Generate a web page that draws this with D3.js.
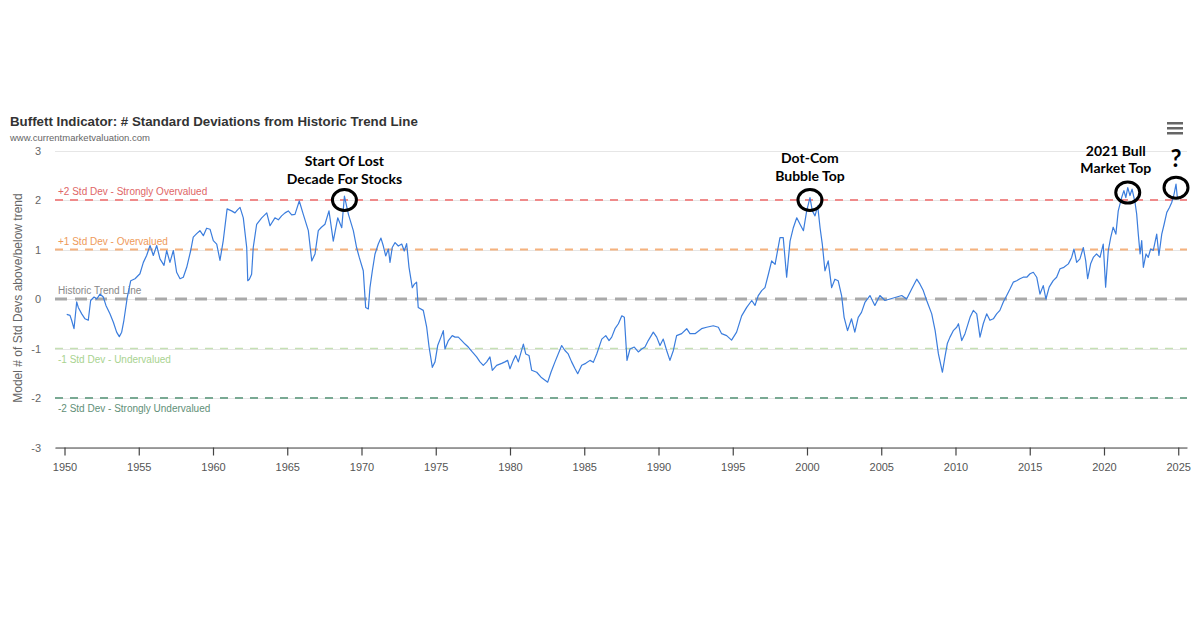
<!DOCTYPE html>
<html>
<head>
<meta charset="utf-8">
<script src="https://cdn.jsdelivr.net/npm/d3@7"></script>
<style>
  html, body { margin: 0; padding: 0; background: #fff; }
  svg { display: block; }
</style>
</head>
<body>
<svg id="chart" width="1200" height="630"></svg>
<script>
// ---- Data ----
const years = [
1950.15,1950.37,1950.48,1950.64,1950.82,1950.93,1951.16,1951.38,1951.60,1951.76,1951.99,1952.17,1952.39,1952.61,1952.79,
1953.06,1953.29,1953.51,1953.69,1953.85,1954.00,1954.23,1954.46,1954.75,1955.08,1955.31,1955.53,1955.76,1955.98,1956.21,
1956.43,1956.70,1956.88,1957.10,1957.33,1957.55,1957.78,1958.00,1958.23,1958.50,1958.67,1958.90,1959.12,1959.35,1959.57,
1959.80,1960.02,1960.25,1960.47,1960.69,1960.95,1961.25,1961.48,1961.65,1961.82,1962.04,1962.27,1962.34,1962.45,1962.60,
1962.71,1962.94,1963.28,1963.62,1963.84,1964.17,1964.40,1964.62,1964.85,1965.07,1965.30,1965.52,1965.81,1966.08,1966.42,
1966.65,1966.87,1967.09,1967.30,1967.54,1967.81,1968.10,1968.40,1968.67,1968.85,1969.12,1969.45,1969.67,1969.85,1970.12,
1970.28,1970.46,1970.57,1970.73,1970.91,1971.13,1971.31,1971.47,1971.63,1971.81,1971.92,1972.07,1972.26,1972.48,1972.71,
1972.88,1973.04,1973.20,1973.42,1973.56,1973.71,1973.82,1974.16,1974.39,1974.55,1974.77,1974.95,1975.13,1975.35,1975.51,
1975.62,1975.85,1976.11,1976.30,1976.52,1976.75,1976.97,1977.19,1977.46,1977.75,1977.98,1978.20,1978.43,1978.65,1978.81,
1979.10,1979.44,1979.66,1979.84,1980.00,1980.22,1980.38,1980.56,1980.90,1981.06,1981.28,1981.46,1981.80,1982.09,1982.54,
1982.76,1983.03,1983.48,1983.70,1983.92,1984.15,1984.38,1984.56,1984.83,1985.10,1985.39,1985.61,1985.84,1986.18,1986.45,
1986.67,1986.85,1987.07,1987.30,1987.53,1987.70,1987.88,1988.08,1988.37,1988.64,1988.87,1989.09,1989.31,1989.65,1989.88,
1990.10,1990.32,1990.55,1990.77,1991.00,1991.22,1991.56,1991.90,1992.12,1992.46,1992.90,1993.24,1993.69,1994.03,1994.25,
1994.59,1994.92,1995.26,1995.60,1995.94,1996.28,1996.50,1996.72,1996.95,1997.17,1997.40,1997.62,1997.85,1998.18,1998.40,
1998.63,1998.86,1999.08,1999.31,1999.53,1999.76,1999.98,2000.20,2000.36,2000.54,2000.72,2000.88,2001.03,2001.21,2001.43,
2001.66,2001.88,2002.10,2002.33,2002.50,2002.73,2003.00,2003.22,2003.45,2003.67,2003.90,2004.24,2004.57,2004.91,2005.25,
2005.59,2005.93,2006.38,2006.71,2007.05,2007.39,2007.61,2007.83,2008.06,2008.40,2008.63,2008.85,2009.12,2009.29,2009.45,
2009.63,2009.85,2010.08,2010.20,2010.42,2010.64,2010.98,2011.20,2011.43,2011.65,2011.87,2012.10,2012.32,2012.55,2012.77,
2012.99,2013.22,2013.45,2013.67,2013.89,2014.12,2014.34,2014.56,2014.80,2015.02,2015.24,2015.47,2015.69,2015.91,2016.09,
2016.31,2016.58,2016.81,2017.04,2017.30,2017.60,2017.82,2017.98,2018.16,2018.38,2018.61,2018.77,2018.90,2019.10,2019.28,
2019.50,2019.73,2019.95,2020.11,2020.29,2020.45,2020.62,2020.80,2020.96,2021.19,2021.34,2021.47,2021.60,2021.75,2021.89,
2022.09,2022.20,2022.31,2022.43,2022.54,2022.65,2022.83,2022.98,2023.14,2023.32,2023.55,2023.70,2023.89,2024.05,2024.23,
2024.41,2024.56,2024.72,2024.85,2024.94
];
const stdDevs = [
-0.31,-0.33,-0.43,-0.60,-0.06,-0.17,-0.30,-0.40,-0.43,-0.03,0.04,0.00,0.10,0.04,-0.13,
-0.30,-0.47,-0.67,-0.76,-0.67,-0.43,0.04,0.37,0.41,0.51,0.74,0.88,1.08,0.88,1.08,
0.81,0.68,0.98,0.74,0.98,0.54,0.41,0.44,0.64,0.98,1.25,1.32,1.38,1.28,1.43,
1.41,1.18,1.11,0.78,1.18,1.82,1.78,1.74,1.80,1.85,1.64,1.04,0.37,0.40,0.50,
1.04,1.51,1.64,1.74,1.48,1.64,1.60,1.68,1.74,1.78,1.70,1.71,1.98,1.71,1.38,
0.77,0.91,1.38,1.45,1.51,1.78,1.17,1.64,1.44,2.08,1.71,1.38,1.04,0.84,0.57,
-0.17,-0.20,0.23,0.57,0.91,1.11,1.23,1.07,0.87,1.01,0.74,1.04,1.14,1.07,1.11,
0.97,1.12,0.64,0.23,0.30,0.34,-0.17,-0.23,-0.57,-0.97,-1.38,-1.27,-0.94,-0.77,-0.64,
-1.01,-0.84,-0.74,-0.77,-0.77,-0.84,-0.91,-0.97,-1.07,-1.17,-1.27,-1.34,-1.27,-1.17,-1.44,
-1.34,-1.30,-1.27,-1.24,-1.41,-1.24,-1.14,-1.27,-0.91,-1.11,-1.14,-1.44,-1.48,-1.58,-1.68,
-1.48,-1.27,-0.94,-1.04,-1.11,-1.27,-1.41,-1.51,-1.34,-1.30,-1.24,-1.28,-1.11,-0.81,-0.74,
-0.84,-0.77,-0.60,-0.50,-0.34,-0.37,-1.24,-1.01,-0.97,-1.07,-1.01,-0.97,-0.84,-0.67,-0.77,
-0.94,-0.81,-1.04,-1.24,-1.04,-0.74,-0.70,-0.60,-0.70,-0.70,-0.60,-0.57,-0.54,-0.57,-0.70,
-0.74,-0.83,-0.67,-0.34,-0.17,-0.03,-0.13,0.07,0.17,0.23,0.50,0.77,0.70,1.24,1.24,
0.44,1.17,1.44,1.64,1.51,1.38,1.78,2.05,1.78,1.68,1.88,1.44,1.11,0.57,0.77,
0.23,0.40,0.37,0.07,-0.37,-0.64,-0.40,-0.67,-0.37,-0.27,-0.07,0.07,-0.13,0.07,-0.03,
0.00,0.03,0.07,0.00,0.20,0.40,0.30,0.17,-0.03,-0.30,-0.64,-1.11,-1.48,-1.17,-0.90,
-0.77,-0.64,-0.57,-0.50,-0.84,-0.70,-0.37,-0.23,-0.30,-0.77,-0.50,-0.30,-0.43,-0.40,-0.30,
-0.23,-0.06,0.07,0.20,0.34,0.37,0.41,0.44,0.44,0.51,0.54,0.44,0.10,0.27,0.00,
0.24,0.37,0.44,0.61,0.64,0.71,0.84,1.01,0.74,0.81,1.04,0.77,0.41,0.71,0.84,
0.91,0.84,1.11,0.24,0.98,1.24,1.45,1.31,1.78,2.05,2.19,2.05,2.25,2.09,2.22,
1.95,1.72,1.31,0.91,1.18,0.64,0.91,0.84,1.01,0.98,1.31,0.88,1.31,1.51,1.75,
1.85,1.95,2.12,2.32,2.05
];
const xTickYears = [1950,1955,1960,1965,1970,1975,1980,1985,1990,1995,2000,2005,2010,2015,2020,2025];
const yTickValues = [-3,-2,-1,0,1,2,3];
const bandLevels = [2, 1, 0, -1, -2];
const bandLabels = ["+2 Std Dev - Strongly Overvalued","+1 Std Dev - Overvalued","Historic Trend Line","-1 Std Dev - Undervalued","-2 Std Dev - Strongly Undervalued"];
const annotationText = [["Start Of Lost","Decade For Stocks"],["Dot-Com","Bubble Top"],["2021 Bull","Market Top"],["?"]];
const annotationYears = [1968.85, 2000.2, 2021.6, 2024.85];
const annotationValues = [2.0, 2.0, 2.15, 2.25];

// ---- Styles ----
const bandStyle = [
  {color:"#ef8a8a", width:2, dash:"8,7", text:"#e06666", labelDy:-5},
  {color:"#f5b27e", width:2, dash:"8,7", text:"#ee9a5a", labelDy:-5},
  {color:"#a9a9a9", width:3, dash:"12,8", text:"#888888", labelDy:-5},
  {color:"#c5e0b4", width:1.6, dash:"8,7", text:"#a8d38f", labelDy:14},
  {color:"#79a993", width:2, dash:"8,7", text:"#5f8f77", labelDy:14}
];

const svg = d3.select("#chart");
const plotLeft = 55, plotRight = 1187, plotTop = 150.5, plotBottom = 447.5;

const x = d3.scaleLinear().domain([1949.36, 2025.59]).range([plotLeft, plotRight]);
const y = d3.scaleLinear().domain([-3, 3]).range([plotBottom, plotTop]);

svg.append("rect").attr("width",1200).attr("height",630).attr("fill","#fff");

// gridlines
svg.append("g").selectAll("line").data(yTickValues).join("line")
  .attr("x1", plotLeft).attr("x2", plotRight)
  .attr("y1", d => Math.round(y(d)) + 0.5).attr("y2", d => Math.round(y(d)) + 0.5)
  .attr("stroke", "#e6e6e6").attr("stroke-width", 1);

// title
svg.append("text").attr("x", 10).attr("y", 126)
  .attr("font-family", "Liberation Sans, Arial, sans-serif").attr("font-weight", "bold")
  .attr("font-size", 13.3).attr("fill", "#333")
  .text("Buffett Indicator: # Standard Deviations from Historic Trend Line");
svg.append("text").attr("x", 10).attr("y", 141)
  .attr("font-family", "Liberation Sans, Arial, sans-serif")
  .attr("font-size", 9.5).attr("fill", "#666")
  .text("www.currentmarketvaluation.com");

// hamburger menu
svg.append("g").selectAll("rect").data([0,1,2]).join("rect")
  .attr("x", 1167).attr("y", d => 122 + d * 5).attr("width", 16).attr("height", 2.5)
  .attr("fill", "#666");

// y axis labels
const yAxis = d3.axisLeft(y).tickValues(yTickValues).tickSize(0).tickPadding(14).tickFormat(d => String(d));
const gy = svg.append("g").attr("transform", `translate(${plotLeft},0)`).call(yAxis);
gy.select(".domain").remove();
gy.selectAll("text").attr("font-family", "Liberation Sans, Arial, sans-serif").attr("font-size", 11).attr("fill", "#666");

// y title
svg.append("text")
  .attr("transform", "translate(22,298) rotate(-90)")
  .attr("text-anchor", "middle")
  .attr("font-family", "Liberation Sans, Arial, sans-serif").attr("font-size", 12).attr("fill", "#666")
  .text("Model # of Std Devs above/below trend");

// band lines & labels
bandLevels.forEach((lv, i) => {
  const s = bandStyle[i];
  svg.append("line")
    .attr("x1", plotLeft).attr("x2", plotRight)
    .attr("y1", y(lv)).attr("y2", y(lv))
    .attr("stroke", s.color).attr("stroke-width", s.width).attr("stroke-dasharray", s.dash);
  svg.append("text")
    .attr("x", 58).attr("y", y(lv) + s.labelDy)
    .attr("font-family", "Liberation Sans, Arial, sans-serif").attr("font-size", 10)
    .attr("fill", s.text)
    .text(bandLabels[i]);
});

// x axis
const xAxis = d3.axisBottom(x).tickValues(xTickYears).tickSize(8).tickPadding(8).tickSizeOuter(0).tickFormat(d => String(d));
const gx = svg.append("g").attr("transform", `translate(0,${plotBottom})`).call(xAxis);
gx.select(".domain").attr("stroke", "#444").attr("stroke-width", 1.2);
gx.selectAll(".tick line").attr("stroke", "#444").attr("stroke-width", 1.2);
gx.selectAll("text").attr("font-family", "Liberation Sans, Arial, sans-serif").attr("font-size", 11).attr("fill", "#555");

// data line
const pts = years.map((yr, i) => [yr, stdDevs[i]]);
svg.append("path").datum(pts)
  .attr("fill", "none").attr("stroke", "#3b7ddd").attr("stroke-width", 1.2)
  .attr("stroke-linejoin", "round")
  .attr("d", d3.line().x(d => x(d[0])).y(d => y(d[1])));

// annotations
const annoGeo = [
  {dx: 0, lines: [166, 184], size: 14},
  {dx: 0, lines: [163, 181], size: 14},
  {dx: -12, lines: [156, 173], size: 14},
  {dx: 0, lines: [167], size: 24}
];
annotationText.forEach((lines, i) => {
  const cx = x(annotationYears[i]);
  const cy = y(annotationValues[i]);
  svg.append("ellipse").attr("cx", cx).attr("cy", cy).attr("rx", 12).attr("ry", 10.5)
    .attr("fill", "none").attr("stroke", "#000").attr("stroke-width", 3);
  lines.forEach((t, j) => {
    svg.append("text")
      .attr("x", cx + annoGeo[i].dx).attr("y", annoGeo[i].lines[j])
      .attr("text-anchor", "middle")
      .attr("font-family", "Lato, 'Open Sans', sans-serif").attr("font-weight", "bold")
      .attr("font-size", annoGeo[i].size).attr("fill", "#000")
      .text(t);
  });
});
</script>
</body>
</html>
